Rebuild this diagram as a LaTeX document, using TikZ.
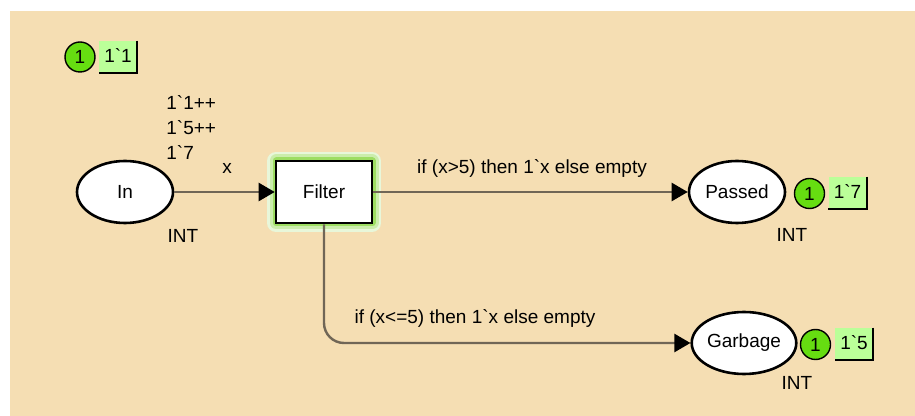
\documentclass[tikz,border=0pt]{standalone}
\usepackage{fontspec}
\newfontfamily\cpnfont{Liberation Sans}
\usepackage{tikz}
\usetikzlibrary{arrows.meta,positioning,shapes.geometric}
\definecolor{canvas}{RGB}{245,222,179}
\definecolor{arcline}{RGB}{112,102,86}
\definecolor{tokengreen}{RGB}{102,221,17}
\definecolor{marklime}{RGB}{187,255,153}
\definecolor{glow}{RGB}{140,215,70}
\newcommand{\bq}{\textasciigrave}

\begin{document}
\begin{tikzpicture}[x=0.5pt, y=-0.5pt, every node/.style={font=\cpnfont\fontsize{9.5}{12.5}\selectfont, inner sep=0pt}, >={Triangle[length=8pt, width=9pt, color=black]},
    place/.style={draw, ellipse, fill=white, line width=1.3pt, minimum width=48pt, minimum height=31pt},
    trans/.style={draw, fill=white, line width=1.3pt, minimum width=48pt, minimum height=31pt,
        preaction={draw=glow!20, line width=9pt, line join=round}, preaction={draw=glow!45, line width=6.5pt, line join=round}, preaction={draw=glow!85, line width=3.5pt, line join=round}},
    arc/.style={->, draw=arcline, line width=1.2pt},
    token/.style={circle, draw, fill=tokengreen, line width=0.7pt, minimum size=15pt},
    marking/.style={fill=marklime, minimum width=19pt, minimum height=16pt}]
    \useasboundingbox (0,0) rectangle (915,416);
    \fill[canvas] (10,11) rectangle (915,416);

    % places and transition
    \node[place] (In) at (125,192) {In};
    \node[trans] (Filter) at (324,192) {Filter};
    \node[place] (Passed) at (737,192) {Passed};
    \node[place] (Garbage) at (744,343) {Garbage};

    % colour sets and initial marking
    \node (InType) at (183,236) {INT};
    \node (PassedType) at (792,235) {INT};
    \node (GarbageType) at (797,383) {INT};
    \node[align=left, anchor=west] (InInit) at (166,128) {1\bq1++\\1\bq5++\\1\bq7};

    % arcs
    \draw[arc] (In) -- (Filter);
    \draw[arc] (Filter) -- (Passed);
    \draw[arc, rounded corners=10pt] (Filter.south) |- (Garbage.west);
    \node (xLabel) at (227,168) {x};
    \node (passGuard) at (532,168) {if (x>5) then 1\bq x else empty};
    \node (dropGuard) at (475,318) {if (x<=5) then 1\bq x else empty};

    % current markings
    \node[token] (InTok) at (80,57) {1};
    \node[marking] (InMark) at (118,57) {\raisebox{1.5pt}{1\bq1}};
    \node[token] (PassedTok) at (809.5,193.5) {1};
    \node[marking] (PassedMark) at (847.5,193) {\raisebox{1.5pt}{1\bq7}};
    \node[token] (GarbageTok) at (815.5,344.5) {1};
    \node[marking] (GarbageMark) at (854,344) {\raisebox{1.5pt}{1\bq5}};
    \foreach \m in {InMark,PassedMark,GarbageMark}
        \draw[line width=1pt] (\m.north east) -- (\m.south east) -- (\m.south west);
\end{tikzpicture}
\end{document}
